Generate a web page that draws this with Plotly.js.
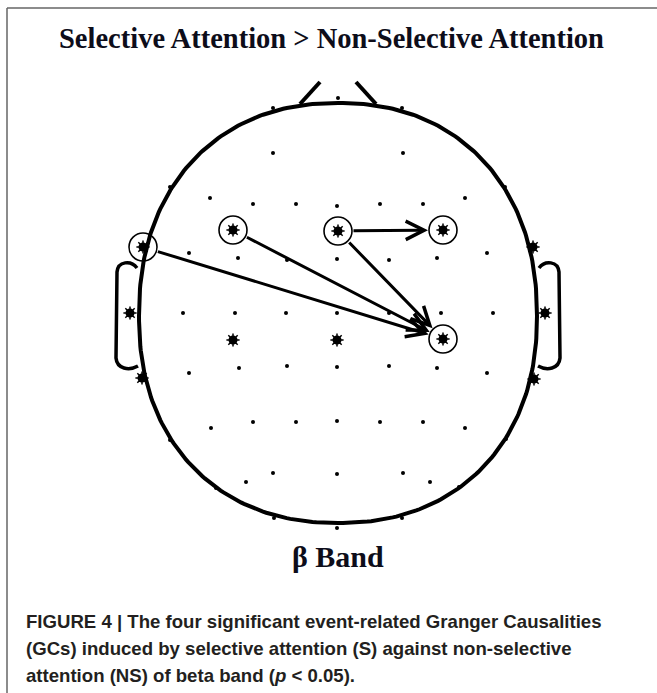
<!DOCTYPE html>
<html><head><meta charset="utf-8">
<script src="https://cdn.plot.ly/plotly-3.0.1.min.js"></script>
<style>html,body{margin:0;padding:0;background:#fff;}#chart{width:657px;height:693px;}</style>
</head><body><div id="chart"></div>
<script>
// Electrode positions (image pixel units)
const smallX = [273,338,402, 273,403, 170,505,
  210,253,296,337,380,423,465,
  189,238,287,337,389,437,487,
  183,235,286,337,389,441,493,
  189,239,287,337,389,437,487,
  211,253,296,337,380,423,465,
  170,506,
  246,273,337,403,430,
  216,459,
  274,337,402];
const smallY = [108,98,108, 153,153, 187,187,
  198,204,204,206,204,204,198,
  253,258,260,259,260,258,253,
  313,313,313,313,313,313,313,
  373,368,366,367,366,368,373,
  428,422,422,421,422,422,428,
  440,439,
  482,473,474,473,482,
  488,487,
  518,528,518];
const bigX = [233,337,130,545,142,533,534];
const bigY = [340,340,313,313,378,247,379];
// significant (circled) electrodes
const sigX = [143,233,338,443,443];
const sigY = [247,230,231,230,339];
// Granger causalities: from -> to (indexes into sig arrays)
const gcFrom = [0,1,2,2];
const gcTo   = [4,4,4,3];

const titleText = 'Selective Attention > Non-Selective Attention';
const bandText = 'β Band';
const captionLines = [
  'FIGURE 4 | The four significant event-related Granger Causalities',
  '(GCs) induced by selective attention (S) against non-selective',
  'attention (NS) of beta band (<i>p</i> < 0.05).'
];

// head outline (superellipse)
const head = {cx:338, cy:316, rx:199, ryTop:213, ryBot:207, n:2.2};
const hx=[], hy=[];
for(let i=0;i<=360;i++){
  const t=i*Math.PI/180, c=Math.cos(t), s=Math.sin(t);
  const px=Math.sign(c)*Math.pow(Math.abs(c),2/head.n);
  const py=Math.sign(s)*Math.pow(Math.abs(s),2/head.n);
  hx.push(head.cx+head.rx*px);
  hy.push(head.cy-(s>0?head.ryTop:head.ryBot)*py);
}

const allBigX = bigX.concat(sigX), allBigY = bigY.concat(sigY);
const traces = [
  {x:hx,y:hy,mode:'lines',line:{color:'#000',width:4},hoverinfo:'skip'},
  {x:smallX,y:smallY,mode:'markers',marker:{color:'#000',size:4},hoverinfo:'skip'},
  {x:allBigX,y:allBigY,mode:'markers',marker:{color:'#000',size:9,symbol:'circle'},hoverinfo:'skip'},
  {x:allBigX,y:allBigY,mode:'markers',marker:{color:'#000',size:11,symbol:'asterisk-open',line:{color:'#000',width:1.5}},hoverinfo:'skip'},
  {x:sigX,y:sigY,mode:'markers',marker:{color:'#000',size:28,symbol:'circle-open',line:{color:'#000',width:1.6}},hoverinfo:'skip'}
];

const annotations = [];
for(let k=0;k<gcFrom.length;k++){
  annotations.push({x:sigX[gcTo[k]],y:sigY[gcTo[k]],ax:sigX[gcFrom[k]],ay:sigY[gcFrom[k]],
    xref:'x',yref:'y',axref:'x',ayref:'y',text:'',showarrow:true,arrowhead:5,arrowsize:1.2,
    arrowwidth:3,arrowcolor:'#000',standoff:15,startstandoff:14});
}
annotations.push({x:331,y:38,xref:'x',yref:'y',text:'<b>'+titleText+'</b>',showarrow:false,
  font:{family:'Liberation Serif, Times New Roman, serif',size:28.5,color:'#0d0d1a'}});
annotations.push({x:338,y:556,xref:'x',yref:'y',text:'<b>'+bandText+'</b>',showarrow:false,
  font:{family:'Liberation Serif, Times New Roman, serif',size:30,color:'#0d0d1a'}});
const capY=[621,648,675];
captionLines.forEach((l,i)=>annotations.push({x:24,y:capY[i],xref:'x',yref:'y',xanchor:'left',
  text:'<b>'+l+'</b>',showarrow:false,font:{family:'Liberation Sans, Arial, sans-serif',size:18.6,color:'#231f20'}}));

const shapes = [
  {type:'path',xref:'x',yref:'y',path:'M137,268 C131,260 118,261 117,272 L116,358 C117,369 129,371 138,366',line:{color:'#000',width:3.5}},
  {type:'path',xref:'x',yref:'y',path:'M539,268 C545,260 558,261 559,272 L560,358 C559,369 547,371 538,366',line:{color:'#000',width:3.5}},
  {type:'line',xref:'x',yref:'y',x0:300,y0:104,x1:320,y1:82,line:{color:'#000',width:4}},
  {type:'line',xref:'x',yref:'y',x0:376,y0:104,x1:356,y1:82,line:{color:'#000',width:4}},
  {type:'line',xref:'x',yref:'y',x0:7,y0:8,x1:660,y1:8,line:{color:'#666',width:1.5}},
  {type:'line',xref:'x',yref:'y',x0:7,y0:8,x1:7,y1:700,line:{color:'#666',width:1.5}}
];

const layout = {
  width:657,height:693,margin:{l:0,r:0,t:0,b:0},paper_bgcolor:'#fff',plot_bgcolor:'#fff',
  showlegend:false,
  xaxis:{range:[0,657],visible:false,fixedrange:true},
  yaxis:{range:[693,0],visible:false,fixedrange:true},
  annotations:annotations,shapes:shapes
};
Plotly.newPlot('chart',traces,layout,{staticPlot:true,displayModeBar:false});
</script></body></html>
